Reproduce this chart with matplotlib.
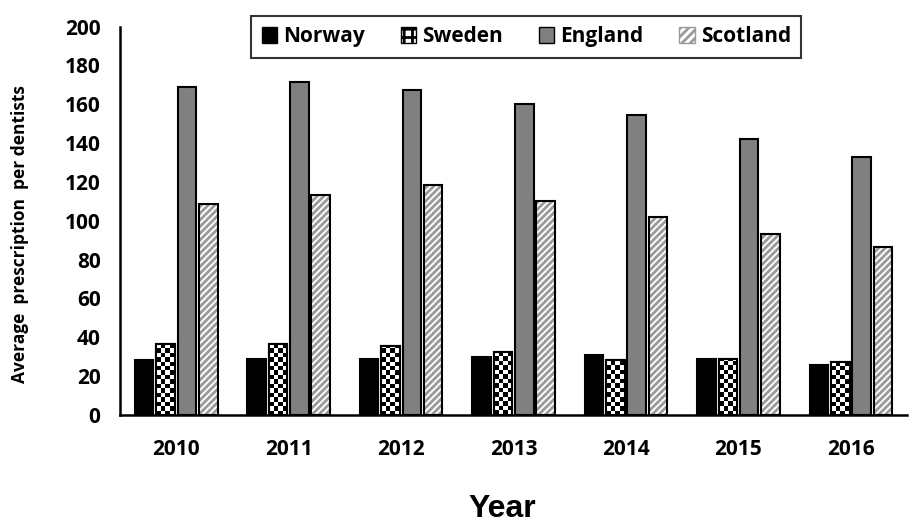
import numpy as np
import matplotlib.pyplot as plt
from matplotlib.patches import Patch

# Datos de prescripcion por dentista
anios = ['2010', '2011', '2012', '2013', '2014', '2015', '2016']
noruega = [28.5, 29, 29, 30, 31, 29, 26]
suecia = [36.5, 36.5, 35.5, 32.5, 28.5, 29, 27.5]
inglaterra = [169, 171.5, 167.5, 160, 154.5, 142, 133]
escocia = [108.5, 113.5, 118.5, 110, 102, 93, 86.5]
paises = ['Norway', 'Sweden', 'England', 'Scotland']

plt.rcParams['font.family'] = ['Open Sans', 'DejaVu Sans']
plt.rcParams['font.weight'] = 'bold'
plt.rcParams['hatch.linewidth'] = 2.0

fig = plt.figure(figsize=(9.09, 5.27), dpi=100)
ax = fig.add_axes([0.132, 0.2125, 0.866, 0.737])

x = np.arange(len(anios))
ancho = 0.165
paso = 0.19

# Norway: negro
ax.bar(x - 1.5 * paso, noruega, ancho, color='black', edgecolor='black', linewidth=1.5)

# Sweden: ajedrez, imagen recortada a cada barra
b_sue = ax.bar(x - 0.5 * paso, suecia, ancho, color='white', edgecolor='black', linewidth=1.5, zorder=2)
tablero = np.indices((96, 4)).sum(axis=0) % 2
for barra in b_sue:
    bx = barra.get_x()
    img = ax.imshow(tablero, cmap='gray', interpolation='nearest', aspect='auto',
                    extent=[bx, bx + ancho, 0, 220], origin='lower', zorder=2.5)
    img.set_clip_path(barra)
ax.bar(x - 0.5 * paso, suecia, ancho, color='none', edgecolor='black', linewidth=1.5, zorder=3)

# England: gris
ax.bar(x + 0.5 * paso, inglaterra, ancho, color='#808080', edgecolor='black', linewidth=1.5)

# Scotland: rayas diagonales grises
ax.bar(x + 1.5 * paso, escocia, ancho, color='white', edgecolor='#9a9a9a', hatch='/////', linewidth=0, zorder=2)
ax.bar(x + 1.5 * paso, escocia, ancho, color='none', edgecolor='black', linewidth=1.5, zorder=3)

ax.set_xlim(-0.5, len(anios) - 0.5)
ax.set_ylim(0, 200)
ax.set_yticks(range(0, 201, 20))
ax.set_xticks(x)
ax.set_xticklabels(anios)
ax.tick_params(axis='both', length=0, labelsize=15)
ax.tick_params(axis='y', pad=14)
ax.tick_params(axis='x', pad=17)
for lado in ['top', 'right']:
    ax.spines[lado].set_visible(False)
for lado in ['left', 'bottom']:
    ax.spines[lado].set_linewidth(1.8)

ax.set_ylabel('Average  prescription  per dentists', fontsize=12.5, fontweight='bold',
              labelpad=26, y=0.465)
fig.text(0.553, 0.005, 'Year', fontsize=23, ha='center', va='bottom', weight='bold',
         family='Liberation Sans')

# Leyenda
handles = [
    Patch(facecolor='black', edgecolor='black'),
    Patch(facecolor='white', edgecolor='black', hatch='++'),
    Patch(facecolor='#808080', edgecolor='black'),
    Patch(facecolor='white', edgecolor='#9a9a9a', hatch='////'),
]
ley = fig.legend(handles, paises, loc='upper center', bbox_to_anchor=(0.579, 0.982), ncol=4,
                 fontsize=15, frameon=True, fancybox=False, edgecolor='black',
                 handlelength=0.75, handleheight=0.75, columnspacing=1.7, handletextpad=0.3,
                 borderpad=0.5, borderaxespad=0.3)
ley.get_frame().set_linewidth(1.5)

fig.savefig('out.png', dpi=100)
